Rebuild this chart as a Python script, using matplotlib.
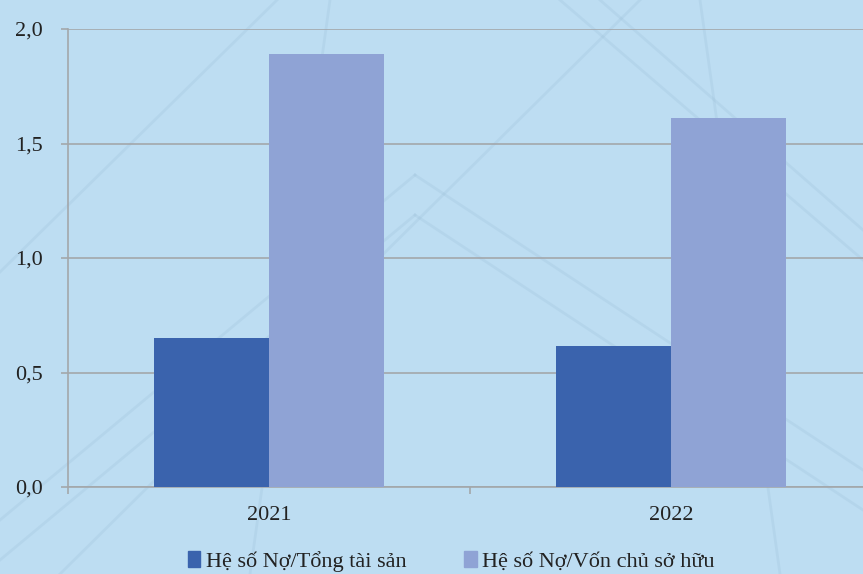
import matplotlib.pyplot as plt
import numpy as np
from matplotlib.lines import Line2D
from matplotlib.patches import Patch

years = ["2021", "2022"]
debt_to_assets = [0.65, 0.616]
debt_to_equity = [1.89, 1.61]
series_names = ["Hệ số Nợ/Tổng tài sản", "Hệ số Nợ/Vốn chủ sở hữu"]
y_ticks = [0.0, 0.5, 1.0, 1.5, 2.0]

dark = "#3A63AD"
light = "#8FA3D5"
bg = "#BDDDF2"
grid = "#A3A7AB"

plt.rcParams["font.family"] = ["Liberation Serif", "DejaVu Serif"]

fig = plt.figure(figsize=(8.63, 5.74), dpi=100)
fig.patch.set_facecolor(bg)

# faint diagonal texture in the background
px = lambda x, y: (x / 863, 1 - y / 574)
for (x1, y1), (x2, y2) in [((0, 520), (415, 175)), ((415, 175), (863, 470)),
                           ((0, 560), (415, 215)), ((415, 215), (863, 510)),
                           ((0, 272), (277, 0)), ((60, 574), (640, 0)),
                           ((560, 0), (863, 260)), ((600, 0), (863, 230)),
                           ((250, 574), (330, 0)), ((780, 574), (700, 0))]:
    a, b = px(x1, y1), px(x2, y2)
    fig.add_artist(Line2D([a[0], b[0]], [a[1], b[1]], transform=fig.transFigure,
                          color="#97BAD4", lw=2.0, alpha=0.22, zorder=0))

ax = fig.add_axes([68 / 863, 87 / 574, 804 / 863, 458 / 574])
ax.set_facecolor("none")

x = np.arange(len(years))
w = 0.285
ax.bar(x - w / 2, debt_to_assets, w, color=dark, zorder=3)
ax.bar(x + w / 2, debt_to_equity, w, color=light, zorder=3)

ax.set_xlim(-0.5, 1.5)
ax.set_ylim(0, 2.0)
ax.set_yticks(y_ticks)
ax.set_yticklabels([f"{v:.1f}".replace(".", ",") for v in y_ticks])
ax.set_xticks(x)
ax.set_xticklabels(years)
ax.set_xticks([-0.5, 0.5, 1.5], minor=True)

ax.yaxis.grid(True, color=grid, lw=1.2, zorder=1)
for s in ["top", "right"]:
    ax.spines[s].set_visible(False)
ax.spines["left"].set_color(grid)
ax.spines["bottom"].set_color(grid)
ax.spines["left"].set_linewidth(1.2)
ax.spines["bottom"].set_linewidth(1.2)

ax.tick_params(axis="y", length=5, color=grid, width=1.2, pad=13, labelsize=16, labelcolor="#222222")
ax.tick_params(axis="x", which="major", length=0, pad=14, labelsize=16, labelcolor="#222222")
ax.tick_params(axis="x", which="minor", length=5, color=grid, width=1.2)

handles = [Patch(color=dark), Patch(color=light)]
fig.legend(handles, series_names, loc="center", bbox_to_anchor=(0.523, 0.022), ncol=2,
           frameon=False, fontsize=16, handlelength=0.55, handleheight=0.75,
           handletextpad=0.25, columnspacing=2.6, labelcolor="#222222",
           borderpad=0, borderaxespad=0)

fig.savefig("out.png", dpi=100, facecolor=bg)
